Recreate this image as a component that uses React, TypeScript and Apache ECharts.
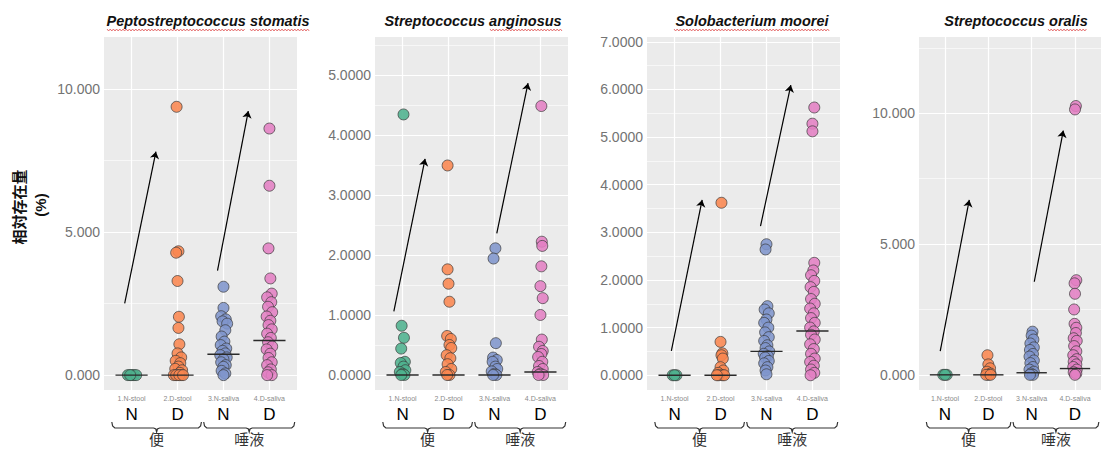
import React, { useEffect, useRef } from "react";
import * as echarts from "echarts";

// ---------- DATA ----------
const panelTitles = [
  "Peptostreptococcus stomatis",
  "Streptococcus anginosus",
  "Solobacterium moorei",
  "Streptococcus oralis",
];
const groupTickLabels = ["1.N-stool", "2.D-stool", "3.N-saliva", "4.D-saliva"];
const groupLetters = ["N", "D", "N", "D"];
const sampleTypes = ["便", "唾液"];
const yAxisTitle = ["相対存在量", "(%)"];
const groupColors = ["#4FB28E", "#F98650", "#7F95CC", "#E37FC3"];

// points: [horizontal jitter (category units), relative abundance %]
const pepto_N_stool = [[-0.08, 0], [0.05, 0], [0, 0], [0.1, 0], [-0.03, 0]];
const pepto_D_stool = [
  [-0.02, 9.38], [0.02, 4.33], [-0.03, 4.28], [0, 3.29], [0.03, 2.04], [0.02, 1.65],
  [0.04, 1.08], [0.0, 0.76], [0.08, 0.62], [-0.04, 0.5], [0.06, 0.42], [0.02, 0.3],
  [-0.05, 0.22], [0.1, 0.17], [0.05, 0.08], [-0.08, 0], [0, 0], [0.08, 0], [-0.03, 0],
  [0.04, 0], [0.12, 0],
];
const pepto_N_saliva = [
  [0, 3.09], [0, 2.35], [-0.05, 2.06], [0.05, 1.95], [-0.02, 1.88], [0.08, 1.8],
  [0.04, 1.57], [-0.04, 1.35], [0.02, 1.17], [-0.06, 1.05], [0.06, 0.93], [-0.02, 0.85],
  [0.04, 0.76], [-0.07, 0.7], [0.07, 0.62], [0, 0.55], [-0.05, 0.45], [0.05, 0.35],
  [0, 0.29], [-0.04, 0.15], [0.04, 0.06], [0, 0],
];
const pepto_D_saliva = [
  [0, 8.62], [0, 6.62], [-0.02, 4.43], [0.02, 3.38], [0.05, 2.85], [-0.05, 2.72],
  [0.04, 2.55], [-0.03, 2.39], [0.06, 2.2], [-0.06, 2.05], [0.02, 1.9], [-0.02, 1.75],
  [0.05, 1.6], [-0.05, 1.45], [0.03, 1.3], [-0.03, 1.15], [0.06, 1.0], [-0.06, 0.9],
  [0.02, 0.75], [-0.02, 0.6], [0.05, 0.45], [-0.05, 0.35], [0.03, 0.2], [-0.03, 0.1],
  [0.05, 0], [-0.05, 0],
];
const pepto_medians = [0, 0, 0.73, 1.21];
const pepto_arrows = [[-0.15, 2.51, 0.53, 7.81], [1.87, 3.65, 2.54, 9.23]];
const pepto_yRange = [-0.52, 11.82];
const pepto_yTicks = [0, 5, 10];
const pepto_yMinor = [2.5, 7.5];

const angin_N_stool = [
  [0.02, 4.34], [-0.02, 0.82], [0.03, 0.62], [-0.03, 0.44], [0.05, 0.22], [-0.04, 0.2],
  [0.02, 0.14], [0.06, 0.08], [-0.06, 0.05], [0, 0.02], [0.04, 0], [-0.03, 0],
];
const angin_D_stool = [
  [-0.02, 3.49], [-0.02, 1.76], [0, 1.52], [0.02, 1.22], [-0.03, 0.65], [0.05, 0.6],
  [0.02, 0.5], [0.06, 0.45], [-0.04, 0.33], [0.04, 0.28], [-0.02, 0.18], [0.06, 0.1],
  [-0.06, 0.05], [0.02, 0], [-0.03, 0],
];
const angin_N_saliva = [
  [0.02, 2.11], [-0.02, 1.94], [0.03, 0.53], [-0.03, 0.29], [0.05, 0.25], [-0.04, 0.22],
  [0.02, 0.14], [0.06, 0.1], [-0.06, 0.06], [0, 0.02], [0.04, 0], [-0.03, 0],
];
const angin_D_saliva = [
  [0.02, 4.48], [0.03, 2.22], [0.04, 2.15], [0.02, 1.81], [0, 1.48], [0.05, 1.28],
  [0, 1.0], [0.03, 0.59], [-0.03, 0.47], [0.05, 0.4], [0.02, 0.35], [-0.05, 0.3],
  [0.04, 0.22], [-0.03, 0.15], [0.05, 0.1], [-0.06, 0.05], [0, 0.02], [0.06, 0], [-0.04, 0],
];
const angin_medians = [0, 0, 0, 0.05];
const angin_arrows = [[-0.19, 1.06, 0.49, 3.6], [2.05, 2.36, 2.73, 4.86]];
const angin_yRange = [-0.25, 5.63];
const angin_yTicks = [0, 1, 2, 3, 4, 5];
const angin_yMinor = [0.5, 1.5, 2.5, 3.5, 4.5, 5.5];

const solo_N_stool = [[-0.04, 0], [0.04, 0], [0, 0]];
const solo_D_stool = [
  [0.02, 3.62], [0, 0.7], [0.04, 0.46], [0.02, 0.42], [0.05, 0.35], [0, 0.17],
  [0.06, 0.1], [-0.05, 0.05], [0.04, 0], [-0.04, 0], [0.08, 0], [-0.08, 0],
];
const solo_N_saliva = [
  [0, 2.75], [-0.02, 2.64], [0.02, 1.45], [-0.04, 1.38], [0.05, 1.3], [0, 1.17],
  [-0.05, 1.1], [0.04, 1.0], [-0.03, 0.9], [0.05, 0.8], [-0.05, 0.72], [0.02, 0.63],
  [-0.02, 0.57], [0.06, 0.5], [-0.06, 0.45], [0.03, 0.4], [-0.03, 0.37], [0.05, 0.3],
  [-0.05, 0.25], [0.02, 0.17], [-0.02, 0.1], [0, 0.02],
];
const solo_D_saliva = [
  [0.04, 5.62], [0, 5.28], [0, 5.12], [0.04, 2.36], [0.02, 2.2], [-0.03, 2.1],
  [0.04, 1.98], [-0.04, 1.85], [0.03, 1.75], [-0.03, 1.6], [0.05, 1.5], [-0.05, 1.4],
  [0.03, 1.3], [-0.03, 1.2], [0.05, 1.1], [-0.05, 1.0], [0.03, 0.92], [-0.03, 0.85],
  [0.05, 0.75], [-0.05, 0.65], [0.03, 0.55], [-0.03, 0.45], [0.05, 0.35], [-0.05, 0.28],
  [0.03, 0.2], [-0.03, 0.12], [0.04, 0.05], [-0.04, 0],
];
const solo_medians = [0, 0, 0.5, 0.93];
const solo_arrows = [[-0.07, 0.51, 0.6, 3.68], [1.87, 3.13, 2.53, 6.09]];
const solo_yRange = [-0.31, 7.1];
const solo_yTicks = [0, 1, 2, 3, 4, 5, 6, 7];
const solo_yMinor = [0.5, 1.5, 2.5, 3.5, 4.5, 5.5, 6.5];

const oralis_N_stool = [[-0.04, 0], [0.04, 0], [0, 0]];
const oralis_D_stool = [
  [-0.02, 0.75], [0, 0.4], [0.04, 0.25], [-0.03, 0.12], [0.05, 0.05], [0, 0], [-0.05, 0], [0.05, 0],
];
const oralis_N_saliva = [
  [0.02, 1.65], [0, 1.5], [0.04, 1.35], [-0.03, 1.2], [0.05, 1.05], [-0.04, 0.95],
  [0.03, 0.8], [-0.05, 0.7], [0.05, 0.55], [-0.03, 0.45], [0.03, 0.3], [-0.05, 0.2],
  [0.05, 0.12], [-0.02, 0.05], [0.03, 0], [-0.04, 0],
];
const oralis_D_saliva = [
  [0.02, 10.28], [0, 10.15], [0.03, 3.62], [-0.01, 3.5], [0, 3.1], [-0.02, 2.5],
  [-0.01, 1.95], [0.03, 1.8], [0.02, 1.6], [-0.03, 1.4], [0.04, 1.3], [-0.02, 1.1],
  [0.03, 0.9], [-0.04, 0.75], [0.04, 0.6], [-0.03, 0.5], [0.03, 0.4], [-0.04, 0.3],
  [0.04, 0.2], [-0.03, 0.1], [0.03, 0.05], [0, 0],
];
const oralis_medians = [0, 0, 0.08, 0.24];
const oralis_arrows = [[-0.11, 0.91, 0.56, 6.69], [2.06, 3.56, 2.73, 9.34]];
const oralis_yRange = [-0.58, 12.92];
const oralis_yTicks = [0, 5, 10];
const oralis_yMinor = [2.5, 7.5, 12.5];

const panelDecimals = [3, 4, 4, 3];

// ---------- LAYOUT (not data) ----------
const gridLefts = [104, 375, 647, 919];
const gridWidths = [193, 193, 193, 194];
const GRID_TOP = 37;
const GRID_H = 353;
const X_MIN = -0.6;
const X_MAX = 3.6;
const titleCenters = [208, 473, 752, 1016];
const squiggles = [[[107, 246], [250, 310]], [[490, 563]], [[674, 830]], [[1048, 1087]]];

const panels = [
  { groups: [pepto_N_stool, pepto_D_stool, pepto_N_saliva, pepto_D_saliva], medians: pepto_medians, arrows: pepto_arrows, yRange: pepto_yRange, yTicks: pepto_yTicks, yMinor: pepto_yMinor },
  { groups: [angin_N_stool, angin_D_stool, angin_N_saliva, angin_D_saliva], medians: angin_medians, arrows: angin_arrows, yRange: angin_yRange, yTicks: angin_yTicks, yMinor: angin_yMinor },
  { groups: [solo_N_stool, solo_D_stool, solo_N_saliva, solo_D_saliva], medians: solo_medians, arrows: solo_arrows, yRange: solo_yRange, yTicks: solo_yTicks, yMinor: solo_yMinor },
  { groups: [oralis_N_stool, oralis_D_stool, oralis_N_saliva, oralis_D_saliva], medians: oralis_medians, arrows: oralis_arrows, yRange: oralis_yRange, yTicks: oralis_yTicks, yMinor: oralis_yMinor },
];

const FONT = "'Liberation Sans', Arial, sans-serif";
const CJK = "'Noto Sans CJK JP', sans-serif";

function buildOption() {
  const grid: any[] = [];
  const xAxis: any[] = [];
  const yAxis: any[] = [];
  const series: any[] = [];
  panels.forEach((p, pi) => {
    grid.push({
      left: gridLefts[pi], top: GRID_TOP, width: gridWidths[pi], height: GRID_H,
      show: true, backgroundColor: "#EBEBEB", borderWidth: 0,
    });
    const cats = [0, 1, 2, 3];
    xAxis.push({
      type: "value", gridIndex: pi, min: X_MIN, max: X_MAX,
      splitLine: { show: false }, axisLine: { show: false },
      axisTick: { show: true, customValues: cats, length: 3, lineStyle: { color: "#888", width: 0.8 } },
      axisLabel: {
        show: true, customValues: cats, margin: 3,
        formatter: (v: number) => {
          const i = Math.round(v);
          return `{t|${groupTickLabels[i]}}\n{n|${groupLetters[i]}}`;
        },
        rich: {
          t: { fontSize: 7, color: "#8a8a8a", lineHeight: 10, fontFamily: FONT },
          n: { fontSize: 17, color: "#000", lineHeight: 22, fontFamily: FONT },
        },
      },
    });
    yAxis.push({
      type: "value", gridIndex: pi, min: p.yRange[0], max: p.yRange[1],
      splitLine: { show: false }, axisLine: { show: false },
      axisTick: { show: true, customValues: p.yTicks, length: 3, lineStyle: { color: "#777", width: 0.8 } },
      axisLabel: {
        show: true, customValues: p.yTicks, margin: 4,
        formatter: (v: number) => v.toFixed(panelDecimals[pi]),
        fontSize: 14, color: "#737373", fontFamily: FONT,
      },
    });
    // background grid lines (white) as a marker-only series below the points
    const gridMarks: any[] = [];
    p.yMinor.forEach((v) => gridMarks.push({ yAxis: v, lineStyle: { color: "#ffffff", width: 0.6, type: "solid" } }));
    p.yTicks.forEach((v) => gridMarks.push({ yAxis: v, lineStyle: { color: "#ffffff", width: 1.2, type: "solid" } }));
    cats.forEach((c) => gridMarks.push({ xAxis: c, lineStyle: { color: "#ffffff", width: 1.2, type: "solid" } }));
    series.push({
      type: "scatter", xAxisIndex: pi, yAxisIndex: pi, z: 1, silent: true,
      data: [], symbolSize: 0,
      markLine: {
        silent: true, symbol: ["none", "none"], animation: false, z: 1,
        label: { show: false }, emphasis: { disabled: true },
        data: gridMarks,
      },
    });
    p.groups.forEach((g, gi) => {
      series.push({
        type: "scatter", xAxisIndex: pi, yAxisIndex: pi, z: 2,
        symbol: "circle", symbolSize: 11,
        itemStyle: { color: groupColors[gi], borderColor: "#3a3a3a", borderWidth: 0.8, opacity: 0.88 },
        data: g.map((d) => [gi + d[0], d[1]]),
      });
    });
    series.push({
      type: "custom", xAxisIndex: pi, yAxisIndex: pi, z: 3, silent: true,
      data: p.medians.map((m, i) => [i, m]),
      renderItem: (params: any, api: any) => {
        const i = api.value(0), m = api.value(1);
        const a = api.coord([i - 0.35, m]);
        const b = api.coord([i + 0.35, m]);
        return {
          type: "line",
          shape: { x1: a[0], y1: a[1], x2: b[0], y2: b[1] },
          style: { stroke: "#2a2a2a", lineWidth: 1.4 },
        };
      },
    });
    series.push({
      type: "lines", coordinateSystem: "cartesian2d", xAxisIndex: pi, yAxisIndex: pi, z: 4,
      symbol: ["none", "arrow"], symbolSize: 7, silent: true,
      lineStyle: { color: "#000", width: 1.2, opacity: 1 },
      data: p.arrows.map((a) => ({ coords: [[a[0], a[1]], [a[2], a[3]]] })),
    });
  });
  return { animation: false, backgroundColor: "#ffffff", grid, xAxis, yAxis, series };
}

function squigglePoints(x0: number, x1: number, y: number) {
  const pts: number[][] = [];
  let up = true;
  for (let x = x0; x <= x1; x += 1.6) {
    pts.push([x, y + (up ? -1 : 1)]);
    up = !up;
  }
  return pts;
}

function buildGraphics(chart: any) {
  const g: any[] = [];
  panelTitles.forEach((t, i) => {
    g.push({
      type: "text", x: titleCenters[i], y: 21,
      style: { text: t, fontSize: 14.5, fontWeight: "bold", fontStyle: "italic", fontFamily: FONT, fill: "#111", align: "center", verticalAlign: "middle" },
    });
    squiggles[i].forEach((s) => {
      g.push({ type: "polyline", shape: { points: squigglePoints(s[0], s[1], 30) }, style: { stroke: "#e05050", lineWidth: 0.8, fill: null } });
    });
  });
  g.push({
    type: "text", x: 18, y: 207, rotation: Math.PI / 2,
    style: { text: yAxisTitle[0], fontSize: 15, fontWeight: "bold", fontFamily: CJK, fill: "#111", align: "center", verticalAlign: "middle" },
  });
  g.push({
    type: "text", x: 40, y: 205, rotation: Math.PI / 2,
    style: { text: yAxisTitle[1], fontSize: 15, fontWeight: "bold", fontFamily: FONT, fill: "#111", align: "center", verticalAlign: "middle" },
  });
  const spans = [[-0.43, 1.52], [1.57, 3.55]];
  panels.forEach((p, pi) => {
    spans.forEach((s, si) => {
      const xa = chart.convertToPixel({ gridIndex: pi }, [s[0], 0])[0];
      const xb = chart.convertToPixel({ gridIndex: pi }, [s[1], 0])[0];
      const xc = (xa + xb) / 2;
      const yb = 428;
      g.push({
        type: "polyline",
        shape: {
          points: [
            [xa, yb - 6], [xa + 0.8, yb - 2], [xa + 3, yb], [xc - 3, yb], [xc - 0.8, yb + 1],
            [xc, yb + 4], [xc + 0.8, yb + 1], [xc + 3, yb], [xb - 3, yb], [xb - 0.8, yb - 2], [xb, yb - 6],
          ],
        },
        style: { stroke: "#333", lineWidth: 1.2, fill: null },
      });
      g.push({
        type: "text", x: xc, y: 438,
        style: { text: sampleTypes[si], fontSize: 15, fontFamily: CJK, fill: "#333", align: "center", verticalAlign: "middle" },
      });
    });
  });
  return g;
}

export default function App() {
  const ref = useRef<HTMLDivElement>(null);
  useEffect(() => {
    if (!ref.current) return;
    const chart = echarts.init(ref.current, undefined, { renderer: "svg" });
    chart.setOption(buildOption());
    chart.setOption({ graphic: buildGraphics(chart) });
    return () => chart.dispose();
  }, []);
  return (
    <div
      ref={ref}
      style={{ position: "fixed", left: 0, top: 0, width: 1101, height: 450, background: "#fff" }}
    />
  );
}
